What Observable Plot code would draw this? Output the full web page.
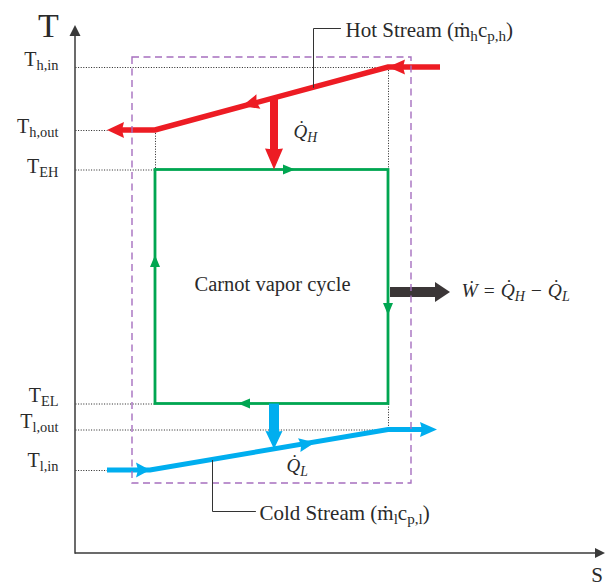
<!DOCTYPE html>
<html><head><meta charset="utf-8">
<script src="https://cdn.jsdelivr.net/npm/d3@7"></script>
<script src="https://cdn.jsdelivr.net/npm/@observablehq/plot@0.6"></script>
<style>html,body{margin:0;padding:0;background:#fff;overflow:hidden}</style>
</head><body><div id="chart"></div>
<script>
// ---------- data (schematic units: entropy S, temperature T) ----------
const tickLabels = ["T_{h,in}", "T_{h,out}", "T_{EH}", "T_{EL}", "T_{l,out}", "T_{l,in}"];
const tickValues = [97.2, 84.6, 76.7, 29.9, 24.7, 16.6];
const guideEnds  = [62.6, 6.4, 16, 16, 62.6, 6.4];
const dropS  = [16, 62.6, 62.6];
const dropT1 = [84.6, 97.2, 29.9];
const dropT2 = [76.7, 76.7, 24.7];
const hotStreamS  = [73, 62.6, 16, 6.4];
const hotStreamT  = [97.2, 97.2, 84.6, 84.6];
const coldStreamS = [6.4, 15, 62.6, 72.4];
const coldStreamT = [16.6, 16.6, 24.7, 24.7];
const hotMidS = [33.4], hotMidT = [89.4];
const coldMidS = [48], coldMidT = [22.1];
const cycleS = [16, 62.6];
const cycleT = [29.9, 76.7];
const cycleArrowS = [44, 62.6, 32.6, 16];
const cycleArrowT = [76.7, 47.6, 29.9, 59.6];
const cycleArrowDS = [1, 0, -1, 0];
const cycleArrowDT = [0, -1, 0, 1];
const qHS = [39.8, 39.8], qHT = [91, 76.7];
const qLS = [39.8, 39.8], qLT = [29.9, 20.8];
const workS = [63, 75], workT = [52.2, 52.2];
const boxS = [11.4, 67.2], boxT = [14, 99.2];
const hotLeaderS = [47.6, 47.6, 53], hotLeaderT = [93.2, 105, 105];
const coldLeaderS = [27.4, 27.4, 36], coldLeaderT = [18.6, 8.4, 8.4];
const axisS = [0, 106], axisT = [0, 105.6];
const axisLabels = ["T", "S"];
const cycleLabel = "Carnot vapor cycle";
const hotLabel = "Hot Stream (ṁ_{h}c_{p,h})";
const coldLabel = "Cold Stream (ṁ_{l}c_{p,l})";
const qHLabel = "Q̇_{H}";
const qLLabel = "Q̇_{L}";
const workLabel = "Ẇ = Q̇_{H} − Q̇_{L}";

// ---------- styles ----------
const RED = "#ed1c24", BLUE = "#00aeef", GREEN = "#00a651", PURPLE = "#a66fbf", DARK = "#3b3637", AXIS = "#3a3a3a", TXT = "#2a2a2a";
const FONT = "'Liberation Serif', 'Times New Roman', 'DejaVu Serif', serif";
const NS = "http://www.w3.org/2000/svg";
function el(name, attrs) { const e = document.createElementNS(NS, name); for (const k in attrs) e.setAttribute(k, attrs[k]); return e; }
function headPath(tx, ty, ux, uy, len, wid, notch) {
  const bx = tx - ux * len, by = ty - uy * len, nx = -uy * wid / 2, ny = ux * wid / 2;
  return `M${tx},${ty}L${bx + nx},${by + ny}L${bx + ux * notch},${by + uy * notch}L${bx - nx},${by - ny}Z`;
}
// polyline through scaled data points ending in a filled head
function arrow(S, T, {stroke, strokeWidth, len, wid, notch = 0}) {
  return (index, scales) => {
    const x = scales.x, y = scales.y;
    const p = S.map((s, i) => [x(s), y(T[i])]);
    const n = p.length, [tx, ty] = p[n - 1], [fx, fy] = p[n - 2];
    const d = Math.hypot(tx - fx, ty - fy), ux = (tx - fx) / d, uy = (ty - fy) / d;
    const cut = len - notch - 0.5;
    const shaft = p.slice(0, n - 1).concat([[tx - ux * cut, ty - uy * cut]]);
    const g = el("g", {});
    g.append(el("path", {d: "M" + shaft.map(q => q.join(",")).join("L"), fill: "none", stroke, "stroke-width": strokeWidth, "stroke-linejoin": "miter", "stroke-miterlimit": 10}));
    g.append(el("path", {d: headPath(tx, ty, ux, uy, len, wid, notch), fill: stroke}));
    return g;
  };
}
// filled heads at scaled data points, pointing along a data direction
function heads(S, T, DS, DT, {fill, len, wid, notch = 0}) {
  return (index, scales) => {
    const x = scales.x, y = scales.y, g = el("g", {});
    S.forEach((s, i) => {
      const tx = x(s), ty = y(T[i]);
      const dx = x(s + DS[i]) - tx, dy = y(T[i] + DT[i]) - ty, d = Math.hypot(dx, dy);
      g.append(el("path", {d: headPath(tx, ty, dx / d, dy / d, len, wid, notch), fill}));
    });
    return g;
  };
}
const tickNudge = [0.4, -0.4, -0.5, 0.5, 0.5, 0.8];
const txt = {fill: TXT, fontFamily: FONT, lineAnchor: "bottom", text: d => d};

const chart = Plot.plot({
  width: 605, height: 586,
  marginLeft: 75, marginRight: 0, marginTop: 25, marginBottom: 33,
  x: {domain: axisS, axis: null},
  y: {domain: axisT, axis: null},
  style: {fontFamily: FONT, background: "white", overflow: "visible"},
  marks: [
    // dotted guides
    Plot.link(tickValues, {x1: () => 0, x2: (d, i) => guideEnds[i], y1: d => d, y2: d => d, stroke: "#222", strokeWidth: 1, strokeDasharray: "1,1.6"}),
    Plot.link(dropS, {x1: d => d, x2: d => d, y1: (d, i) => dropT1[i], y2: (d, i) => dropT2[i], stroke: "#222", strokeWidth: 1, strokeDasharray: "1,1.6"}),
    // Carnot cycle
    Plot.rect([0], {x1: () => cycleS[0], x2: () => cycleS[1], y1: () => cycleT[0], y2: () => cycleT[1], fill: "none", stroke: GREEN, strokeWidth: 2.8}),
    heads(cycleArrowS, cycleArrowT, cycleArrowDS, cycleArrowDT, {fill: GREEN, len: 12, wid: 10}),
    // hot stream
    arrow(hotStreamS, hotStreamT, {stroke: RED, strokeWidth: 5.5, len: 17, wid: 16, notch: 2}),
    heads([hotStreamS[1]], [hotStreamT[1]], [-1], [0], {fill: RED, len: 17, wid: 15, notch: 2}),
    heads(hotMidS, hotMidT, [hotStreamS[2] - hotStreamS[1]], [hotStreamT[2] - hotStreamT[1]], {fill: RED, len: 17, wid: 15, notch: 2}),
    // cold stream
    arrow(coldStreamS, coldStreamT, {stroke: BLUE, strokeWidth: 5, len: 17, wid: 15, notch: 2}),
    heads([coldStreamS[1]], [coldStreamT[1]], [1], [0], {fill: BLUE, len: 14, wid: 15, notch: 2}),
    heads(coldMidS, coldMidT, [coldStreamS[2] - coldStreamS[1]], [coldStreamT[2] - coldStreamT[1]], {fill: BLUE, len: 16, wid: 14, notch: 2}),
    // heat & work arrows
    arrow(qHS, qHT, {stroke: RED, strokeWidth: 8, len: 21, wid: 18, notch: 1}),
    arrow(qLS, qLT, {stroke: BLUE, strokeWidth: 10, len: 18, wid: 17, notch: 1}),
    arrow(workS, workT, {stroke: DARK, strokeWidth: 10, len: 15, wid: 20, notch: 0}),
    // dashed control volume
    Plot.rect([0], {x1: () => boxS[0], x2: () => boxS[1], y1: () => boxT[0], y2: () => boxT[1], fill: "none", stroke: PURPLE, strokeWidth: 1.4, strokeDasharray: "7,4.5"}),
    // leader lines
    Plot.line(hotLeaderS.map((s, i) => [s, hotLeaderT[i]]), {x: d => d[0], y: d => d[1], stroke: "#333", strokeWidth: 1}),
    Plot.line(coldLeaderS.map((s, i) => [s, coldLeaderT[i]]), {x: d => d[0], y: d => d[1], stroke: "#333", strokeWidth: 1}),
    // axes
    arrow([axisS[0], axisS[1]], [axisT[0], axisT[0]], {stroke: AXIS, strokeWidth: 1.5, len: 10, wid: 10}),
    arrow([axisS[0], axisS[0]], [axisT[0] - 0.15, axisT[1]], {stroke: AXIS, strokeWidth: 1.5, len: 11, wid: 11}),
    // texts
    Plot.text(tickLabels, {...txt, x: () => -3.4, y: (d, i) => tickValues[i] + tickNudge[i], textAnchor: "end", fontSize: 20}),
    Plot.text([axisLabels[0]], {...txt, x: () => -5.4, y: () => 103.4, fontSize: 34}),
    Plot.text([axisLabels[1]], {...txt, x: () => 104.3, y: () => -5.7, fontSize: 21}),
    Plot.text([cycleLabel], {...txt, x: () => 39.4, y: () => 52.6, fontSize: 20.5}),
    Plot.text([hotLabel], {...txt, x: () => 54, y: () => 103.4, textAnchor: "start", fontSize: 21}),
    Plot.text([coldLabel], {...txt, x: () => 36.8, y: () => 6.8, textAnchor: "start", fontSize: 21}),
    Plot.text([qHLabel], {...txt, x: () => 43.6, y: () => 83.2, textAnchor: "start", fontSize: 19, fontStyle: "italic"}),
    Plot.text([qLLabel], {...txt, x: () => 42.2, y: () => 16.4, textAnchor: "start", fontSize: 19, fontStyle: "italic"}),
    Plot.text([workLabel], {...txt, x: () => 77.2, y: () => 51.4, textAnchor: "start", fontSize: 19.5, fontStyle: "italic"})
  ]
});
document.getElementById("chart").append(chart);

// rich text: T_{sub} -> subscript tspans
function rich(node) {
  const str = node.textContent;
  if (!str.includes("_{")) return;
  const fs = parseFloat(getComputedStyle(node).fontSize);
  const sub = fs * 0.72, shift = fs * 0.22;
  node.textContent = "";
  const re = /_\{([^}]*)\}/g, parts = [];
  let last = 0, m, cur = 0;
  while ((m = re.exec(str))) { parts.push([str.slice(last, m.index), false]); parts.push([m[1], true]); last = re.lastIndex; }
  parts.push([str.slice(last), false]);
  for (const [t, isSub] of parts) {
    if (!t) continue;
    const target = isSub ? shift : 0;
    const ts = el("tspan", {});
    if (target !== cur) ts.setAttribute("dy", target - cur);
    if (isSub) ts.setAttribute("font-size", sub);
    ts.textContent = t;
    node.append(ts);
    cur = target;
  }
}
d3.select(chart).selectAll("text").each(function() { rich(this); });
</script>
</body></html>
